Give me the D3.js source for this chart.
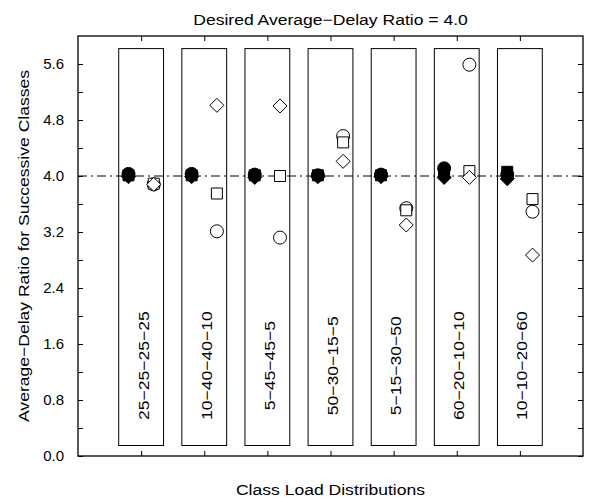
<!DOCTYPE html>
<html>
<head>
<meta charset="utf-8">
<script src="https://cdn.jsdelivr.net/npm/d3@7"></script>
<style>
    body { margin: 0; background: #fff; }
    text { font-family: "Liberation Sans", Arial, sans-serif; fill: #000; }
</style>
</head>
<body>
<div id="chart"></div>
<script>
// class load distributions (one box per distribution)
const categories = ["25−25−25−25", "10−40−40−10", "5−45−45−5", "50−30−15−5", "5−15−30−50", "60−20−10−10", "10−10−20−60"];

// filled markers (left of each box centre)
const filledCircle  = [4.03, 4.03, 4.02, 4.01, 4.02, 4.11, 4.02];
const filledSquare  = [4.01, 4.01, 4.01, 4.01, 4.01, 4.04, 4.06];
const filledDiamond = [3.99, 3.99, 3.98, 3.99, 3.99, 3.98, 3.96];

// open markers (right of each box centre)
const openCircle  = [3.88, 3.21, 3.12, 4.57, 3.54, 5.59, 3.49];
const openSquare  = [3.89, 3.75, 4.00, 4.48, 3.51, 4.07, 3.67];
const openDiamond = [3.88, 5.01, 5.00, 4.21, 3.30, 3.98, 2.87];

const yTickLabels = [0.0, 0.8, 1.6, 2.4, 3.2, 4.0, 4.8, 5.6];
const yMinorTicks = [0.4, 1.2, 2.0, 2.8, 3.6, 4.4, 5.2];
const desiredRatio = 4.0;

const margin = { top: 36, right: 6, bottom: 44, left: 78 },
      width = 589 - margin.left - margin.right,
      height = 500 - margin.top - margin.bottom;

const stretch = 1.17; // text in the reference is drawn wider than Helvetica

const svg = d3.select("#chart")
    .append("svg")
    .attr("width", 589)
    .attr("height", 500);

const g = svg.append("g")
    .attr("transform", `translate(${margin.left},${margin.top})`);

const x = d3.scaleLinear().domain([0, categories.length + 1]).range([0, width]);
const y = d3.scaleLinear().domain([0, 6]).range([height, 0]);
const pos = categories.map((d, i) => i + 1);

// boxes around each distribution label
g.selectAll(".box")
    .data(categories)
    .enter()
    .append("rect")
    .attr("class", "box")
    .attr("x", (d, i) => x(pos[i] - 0.355))
    .attr("y", y(5.82))
    .attr("width", x(0.71) - x(0))
    .attr("height", y(0.15) - y(5.82))
    .attr("fill", "none")
    .attr("stroke", "#000")
    .attr("stroke-width", 1);

g.selectAll(".boxLabel")
    .data(categories)
    .enter()
    .append("text")
    .attr("class", "boxLabel")
    .attr("transform", (d, i) => `translate(${x(pos[i]) + 2},${y(1.29)}) rotate(-90) scale(${stretch},1)`)
    .attr("text-anchor", "middle")
    .attr("dominant-baseline", "central")
    .style("font-size", "15px")
    .text(d => d);

// desired ratio line
g.append("line")
    .attr("x1", 0)
    .attr("x2", width)
    .attr("y1", y(desiredRatio))
    .attr("y2", y(desiredRatio))
    .attr("stroke", "#000")
    .attr("stroke-width", 1)
    .attr("stroke-dasharray", "9,4,2,4");

// axes, ticks pointing inwards
g.append("g")
    .call(d3.axisLeft(y).tickValues(yTickLabels).tickSize(-5).tickPadding(14).tickFormat(d3.format(".1f")))
    .call(a => a.select(".domain").remove())
    .call(a => a.selectAll("text").style("font-size", "15px").attr("font-family", null));

g.append("g")
    .call(d3.axisLeft(y).tickValues(yMinorTicks).tickSize(-5).tickFormat(""))
    .call(a => a.select(".domain").remove());

g.append("g")
    .attr("transform", `translate(${width},0)`)
    .call(d3.axisRight(y).tickValues(yTickLabels.concat(yMinorTicks)).tickSize(-5).tickFormat(""))
    .call(a => a.select(".domain").remove());

g.append("g")
    .call(d3.axisTop(x).tickValues(pos).tickSize(-5).tickFormat(""))
    .call(a => a.select(".domain").remove());

g.append("g")
    .attr("transform", `translate(0,${height})`)
    .call(d3.axisBottom(x).tickValues(pos).tickSize(-5).tickFormat(""))
    .call(a => a.select(".domain").remove());

g.append("rect")
    .attr("width", width)
    .attr("height", height)
    .attr("fill", "none")
    .attr("stroke", "#000")
    .attr("stroke-width", 1.3);

// marker shapes
const circlePath = d3.symbol().type(d3.symbolCircle).size(Math.PI * 6.5 * 6.5)();
const squarePath = d3.symbol().type(d3.symbolSquare).size(11 * 11)();
const diamondPath = "M0,-7L7,0L0,7L-7,0Z";

function drawMarkers(values, path, offset, filled) {
    g.append("g")
        .selectAll("path")
        .data(values)
        .enter()
        .append("path")
        .attr("d", path)
        .attr("transform", (d, i) => `translate(${x(pos[i] + offset)},${y(d)})`)
        .attr("fill", filled ? "#000" : "#fff")
        .attr("stroke", "#000")
        .attr("stroke-width", 1);
}

drawMarkers(filledCircle, circlePath, -0.2, true);
drawMarkers(filledSquare, squarePath, -0.2, true);
drawMarkers(filledDiamond, diamondPath, -0.2, true);
drawMarkers(openCircle, circlePath, 0.2, false);
drawMarkers(openSquare, squarePath, 0.2, false);
drawMarkers(openDiamond, diamondPath, 0.2, false);

// titles
svg.append("text")
    .attr("transform", `translate(${margin.left + width / 2},25) scale(${stretch},1)`)
    .attr("text-anchor", "middle")
    .style("font-size", "15px")
    .text("Desired Average−Delay Ratio = " + desiredRatio.toFixed(1));

svg.append("text")
    .attr("transform", `translate(${margin.left + width / 2},495) scale(${stretch},1)`)
    .attr("text-anchor", "middle")
    .style("font-size", "15px")
    .text("Class Load Distributions");

svg.append("text")
    .attr("transform", `translate(29,${margin.top + height / 2}) rotate(-90) scale(${stretch},1)`)
    .attr("text-anchor", "middle")
    .style("font-size", "15px")
    .text("Average−Delay Ratio for Successive Classes");
</script>
</body>
</html>
